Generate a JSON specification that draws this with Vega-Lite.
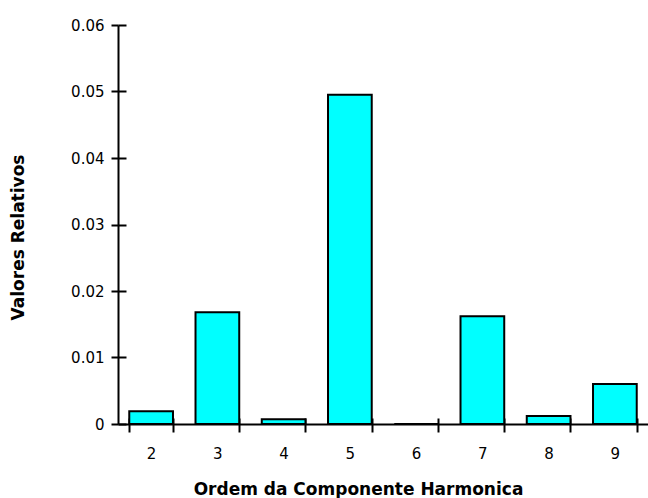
{
  "$schema": "https://vega.github.io/schema/vega-lite/v6.json",
  "width": 530,
  "height": 399,
  "autosize": "none",
  "padding": {"left": 118, "top": 25, "right": 0, "bottom": 74},
  "background": "white",
  "config": {
    "view": {"stroke": null},
    "font": "DejaVu Sans",
    "axis": {
      "labelFont": "DejaVu Sans",
      "labelFontSize": 15,
      "labelColor": "black",
      "titleFont": "DejaVu Sans",
      "titleFontSize": 17,
      "titleFontWeight": "bold",
      "titleColor": "black",
      "domainColor": "black",
      "tickColor": "black",
      "grid": false
    }
  },
  "data": {
    "values": [
      {"ordem": 2, "valor": 0.0019},
      {"ordem": 3, "valor": 0.0168},
      {"ordem": 4, "valor": 0.0007},
      {"ordem": 5, "valor": 0.0495},
      {"ordem": 6, "valor": 0.0},
      {"ordem": 7, "valor": 0.0162},
      {"ordem": 8, "valor": 0.0012},
      {"ordem": 9, "valor": 0.006}
    ]
  },
  "layer": [
    {
      "mark": {"type": "bar", "fill": "#00FFFF", "stroke": "black", "strokeWidth": 2},
      "encoding": {
        "x": {
          "field": "ordem",
          "type": "ordinal",
          "scale": {"paddingInner": 0.34, "paddingOuter": 0.17},
          "axis": {
            "orient": "bottom",
            "title": "Ordem da Componente Harmonica",
            "labelAngle": 0,
            "tickBand": "extent",
            "tickSize": 8,
            "tickWidth": 2,
            "domainWidth": 2,
            "labelPadding": 14,
            "titleX": 240,
            "titleY": 65,
            "titleBaseline": "middle"
          }
        },
        "y": {
          "field": "valor",
          "type": "quantitative",
          "scale": {"domain": [0, 0.06], "nice": false},
          "axis": {
            "orient": "left",
            "title": "Valores Relativos",
            "values": [0, 0.01, 0.02, 0.03, 0.04, 0.05, 0.06],
            "format": "~g",
            "tickSize": 7,
            "tickWidth": 2,
            "domainWidth": 2,
            "labelPadding": 7,
            "titleX": -100,
            "titleY": 212,
            "titleBaseline": "middle"
          }
        }
      }
    },
    {
      "mark": {"type": "bar", "opacity": 0},
      "encoding": {
        "x": {
          "field": "ordem",
          "type": "ordinal",
          "axis": {
            "orient": "bottom",
            "title": null,
            "labels": false,
            "domain": false,
            "tickBand": "extent",
            "tickSize": -6,
            "tickWidth": 2
          }
        },
        "y": {
          "field": "valor",
          "type": "quantitative",
          "axis": {
            "orient": "left",
            "title": null,
            "labels": false,
            "domain": false,
            "values": [0, 0.01, 0.02, 0.03, 0.04, 0.05, 0.06],
            "tickSize": -8,
            "tickWidth": 2
          }
        }
      }
    }
  ],
  "resolve": {"axis": {"x": "independent", "y": "independent"}}
}
